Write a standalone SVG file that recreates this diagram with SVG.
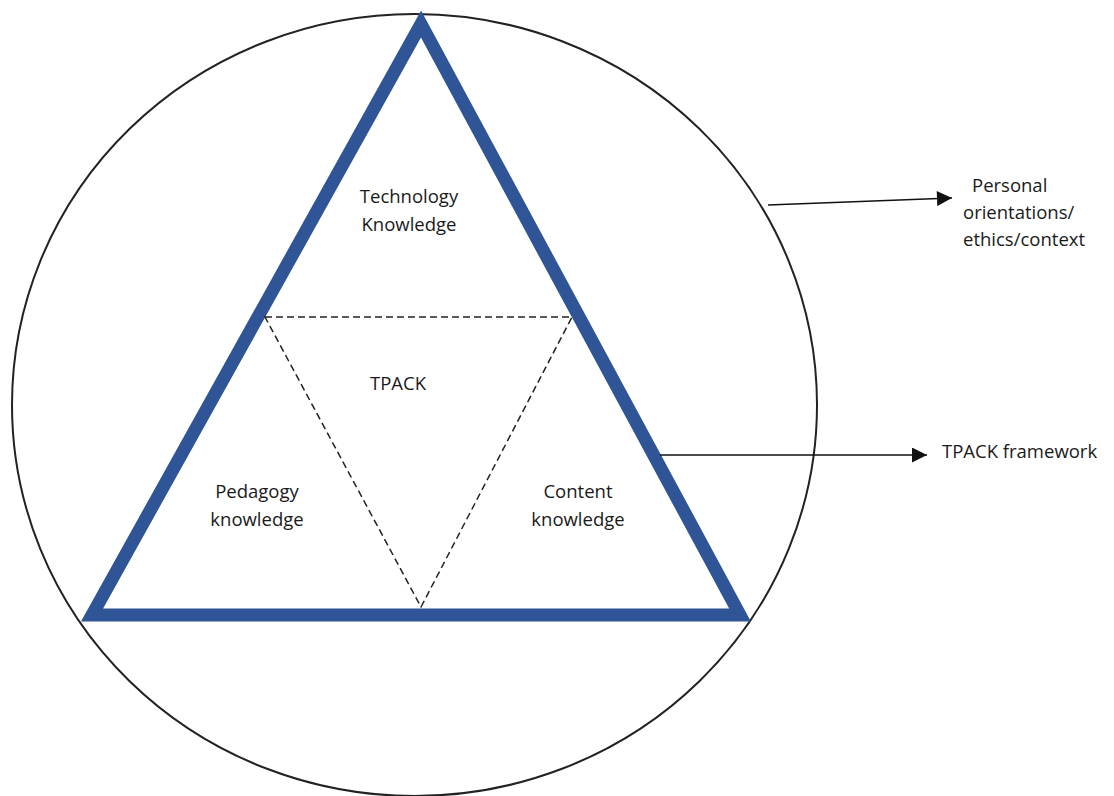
<svg xmlns="http://www.w3.org/2000/svg" width="1114" height="796" viewBox="0 0 1114 796">
<style>
text{font-family:"Open Sans","DejaVu Sans",sans-serif;font-size:18.5px;fill:#1a1a1a}
.c{text-anchor:middle}
.dash{fill:none;stroke:#222;stroke-width:1.5;stroke-dasharray:7 4}
.conn{stroke:#111;stroke-width:1.6;fill:none}
</style>
<defs>
<marker id="ah" viewBox="0 0 10 10" refX="10" refY="5" markerWidth="17" markerHeight="15" markerUnits="userSpaceOnUse" orient="auto">
<path d="M0,0 L10,5 L0,10 z" fill="#111"/>
</marker>
</defs>
<rect width="1114" height="796" fill="#fff"/>
<g id="context">
<ellipse cx="414.5" cy="405" rx="402.5" ry="391" fill="none" stroke="#222" stroke-width="2"/>
</g>
<g id="framework">
<polygon points="421,24 92,615 740,615" fill="none" stroke="#2F5597" stroke-width="13" stroke-linejoin="miter"/>
</g>
<g id="tpack">
<polygon class="dash" points="265,317 572,317 421,607"/>
<text class="c" x="398" y="390">TPACK</text>
</g>
<g id="technology">
<text class="c" x="409" y="203">Technology</text>
<text class="c" x="409" y="231">Knowledge</text>
</g>
<g id="pedagogy">
<text class="c" x="257" y="498">Pedagogy</text>
<text class="c" x="257" y="526">knowledge</text>
</g>
<g id="content">
<text class="c" x="578" y="498">Content</text>
<text class="c" x="578" y="526">knowledge</text>
</g>
<g id="label-personal">
<text x="972" y="192">Personal</text>
<text x="963" y="219">orientations/</text>
<text x="963" y="246">ethics/context</text>
</g>
<g id="label-framework">
<text x="942" y="458">TPACK framework</text>
</g>
<g id="connectors">
<line class="conn" x1="768" y1="205" x2="952" y2="198" marker-end="url(#ah)"/>
<line class="conn" x1="660" y1="455" x2="927" y2="455" marker-end="url(#ah)"/>
</g>
</svg>
